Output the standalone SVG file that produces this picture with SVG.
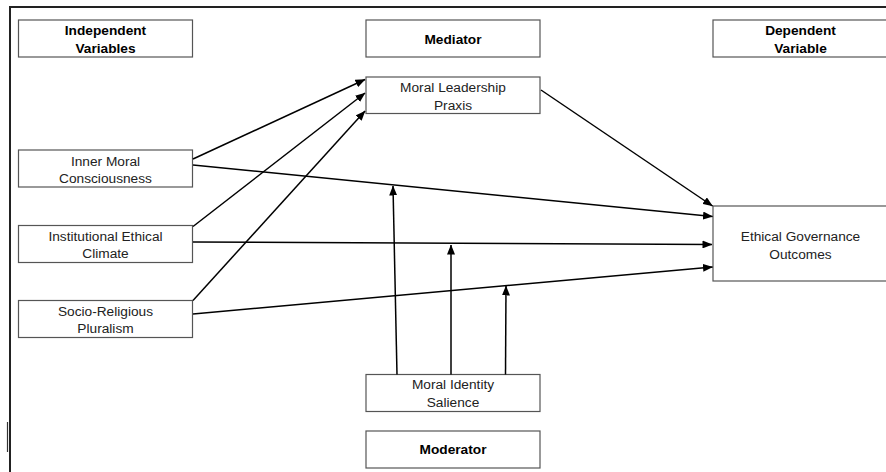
<svg xmlns="http://www.w3.org/2000/svg" width="886" height="472" viewBox="0 0 886 472">
<style>
.box{fill:#fff;stroke:#555;stroke-width:1.2}
.t{font-family:"Liberation Sans",Arial,sans-serif;font-size:13.7px;fill:#222;text-anchor:middle}
.b{font-weight:bold;fill:#000}
.c line{stroke:#000;stroke-width:1.5;marker-end:url(#ah)}
.frame{stroke:#222;stroke-width:2;fill:none}
</style>
<defs>
<marker id="ah" viewBox="0 0 10 8" refX="9.5" refY="4" markerWidth="10" markerHeight="8" markerUnits="userSpaceOnUse" orient="auto">
<path d="M0,0 L10,4 L0,8 z" fill="#000"/>
</marker>
</defs>
<rect width="886" height="472" fill="#fff"/>
<path class="frame" d="M10,472 V7 H886"/>
<line x1="7.5" y1="422" x2="7.5" y2="452" stroke="#333" stroke-width="1.2"/>

<g id="hdr-independent">
<rect class="box" x="18.5" y="20" width="174" height="37"/>
<text class="t b" x="105.5" y="35">Independent</text>
<text class="t b" x="105.5" y="53">Variables</text>
</g>
<g id="hdr-mediator">
<rect class="box" x="366" y="20" width="174" height="37"/>
<text class="t b" x="453" y="44">Mediator</text>
</g>
<g id="hdr-dependent">
<rect class="box" x="713" y="20" width="180" height="37"/>
<text class="t b" x="800.5" y="35">Dependent</text>
<text class="t b" x="800.5" y="53">Variable</text>
</g>

<g id="mlp">
<rect class="box" x="366" y="77" width="174" height="36.5"/>
<text class="t" x="453" y="91.5">Moral Leadership</text>
<text class="t" x="453" y="110">Praxis</text>
</g>
<g id="imc">
<rect class="box" x="18.5" y="150" width="174" height="37"/>
<text class="t" x="105.5" y="166">Inner Moral</text>
<text class="t" x="105.5" y="183">Consciousness</text>
</g>
<g id="iec">
<rect class="box" x="18.5" y="225.5" width="174" height="37"/>
<text class="t" x="105.5" y="241">Institutional Ethical</text>
<text class="t" x="105.5" y="258">Climate</text>
</g>
<g id="srp">
<rect class="box" x="18.5" y="300.5" width="174" height="37"/>
<text class="t" x="105.5" y="316">Socio-Religious</text>
<text class="t" x="105.5" y="333">Pluralism</text>
</g>
<g id="ego">
<rect class="box" x="713" y="206" width="180" height="75"/>
<text class="t" x="800.5" y="241">Ethical Governance</text>
<text class="t" x="800.5" y="258.5">Outcomes</text>
</g>
<g id="mis">
<rect class="box" x="366" y="374.5" width="174" height="37"/>
<text class="t" x="453" y="389">Moral Identity</text>
<text class="t" x="453" y="407">Salience</text>
</g>
<g id="hdr-moderator">
<rect class="box" x="366" y="431" width="174" height="37"/>
<text class="t b" x="453" y="454">Moderator</text>
</g>

<g id="connectors" class="c">
<line x1="193" y1="159" x2="365" y2="79.5"/>
<line x1="193" y1="226.5" x2="365" y2="93"/>
<line x1="193" y1="300.5" x2="365" y2="111"/>
<line x1="193" y1="165" x2="712.5" y2="216.5"/>
<line x1="541" y1="90" x2="712.5" y2="206"/>
<line x1="193" y1="242" x2="712" y2="244.5"/>
<line x1="193" y1="314" x2="712.5" y2="267"/>
<line x1="397" y1="374.5" x2="393" y2="186"/>
<line x1="451" y1="374.5" x2="451" y2="245"/>
<line x1="505.5" y1="374.5" x2="506" y2="286"/>
</g>
</svg>
